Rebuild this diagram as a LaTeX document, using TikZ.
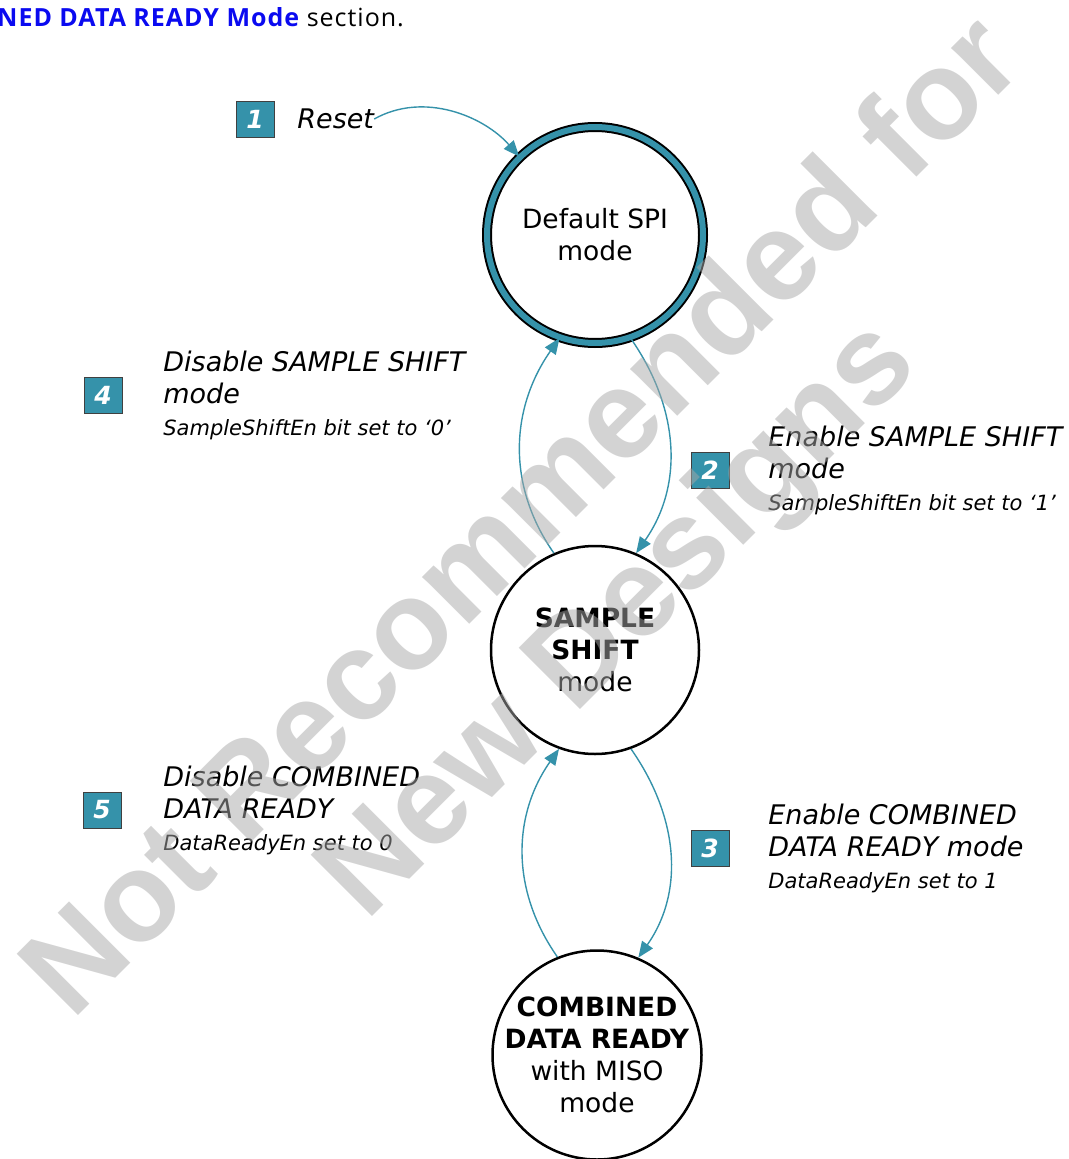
\documentclass[tikz,border=0pt]{standalone}
\usepackage{fontspec}
\setmainfont{DejaVu Sans}
\newfontfamily\headfont[LetterSpace=4]{Open Sans}
\newfontfamily\markfont{Liberation Sans}
\usetikzlibrary{positioning,arrows.meta}
\definecolor{stateteal}{RGB}{53,146,170}
\definecolor{linkblue}{RGB}{10,10,240}
\definecolor{markgray}{RGB}{168,168,168}
\newcommand\bitnote[1]{{\fontsize{21}{32}\selectfont #1}}
\begin{document}
\begin{tikzpicture}[x=1pt,y=1pt,
    state/.style={circle,draw,line width=2.5pt,inner sep=0pt,minimum size=208pt},
    statetext/.style={align=center,inner sep=0pt,font=\fontsize{26.5}{32}\selectfont},
    numbox/.style={draw=black!75,fill=stateteal,text=white,minimum width=38pt,minimum height=36pt,
        inner sep=0pt,font=\fontsize{25}{25}\selectfont\bfseries\itshape},
    lbl/.style={align=left,inner sep=0pt,font=\fontsize{27}{32}\selectfont\itshape},
    flow/.style={draw=stateteal,line width=1.4pt,-{Triangle[length=16pt,width=13pt]}},
    watermark/.style={rotate=45,anchor=base west,inner sep=0pt,text=markgray,text opacity=0.5,
        font=\markfont\bfseries\fontsize{126}{136}\selectfont}]
    \useasboundingbox (0,0) rectangle (1068,-1159);
    \node[anchor=base west,inner sep=0pt,font=\headfont\fontsize{25}{25}\selectfont] (head) at (-3,-26)
        {\textcolor{linkblue}{\bfseries NED DATA READY Mode} section.};

    \node[state,line width=2pt,double=stateteal,double distance=6pt,minimum size=216pt] (spi) at (595,-235) {};
    \node[statetext] (spitext) at (spi) {Default SPI\\mode};
    \node[state] (ss) at (595,-650) {};
    \node[statetext] (sstext) at (ss) {\textbf{SAMPLE}\\\textbf{SHIFT}\\mode};
    \node[state,minimum size=209pt] (cdr) at (597,-1055) {};
    \node[statetext] (cdrtext) at (cdr) {\textbf{COMBINED}\\\textbf{DATA READY}\\with MISO\\mode};

    \node[numbox] (n1) at (255,-119) {1};
    \node[lbl,right=23pt of n1] (l1) {Reset};
    \node[numbox] (n2) at (710,-470) {2};
    \node[lbl,right=39pt of n2] (l2) {Enable SAMPLE SHIFT\\mode\\\bitnote{SampleShiftEn bit set to ‘1’}};
    \node[numbox] (n3) at (710,-848) {3};
    \node[lbl,right=39pt of n3] (l3) {Enable COMBINED\\DATA READY mode\\\bitnote{DataReadyEn set to 1}};
    \node[numbox] (n4) at (103,-395) {4};
    \node[lbl,right=41pt of n4] (l4) {Disable SAMPLE SHIFT\\mode\\\bitnote{SampleShiftEn bit set to ‘0’}};
    \node[numbox] (n5) at (102,-810) {5};
    \node[lbl,right=42pt of n5] (l5) {Disable COMBINED\\DATA READY\\\bitnote{DataReadyEn set to 0}};

    \draw[flow] (l1.east) .. controls +(50,28) and +(-35,40) .. (spi.134);
    \draw[flow] (spi.-71) to[out=-55,in=55] (ss.67);
    \draw[flow] (ss.113) to[out=125,in=-125] (spi.-109);
    \draw[flow] (ss.-70) to[out=-55,in=55] (cdr.67);
    \draw[flow] (cdr.112) to[out=125,in=-125] (ss.-110);

    \node[watermark] (mark1) at (72,-1022) {Not Recommended for};
    \node[watermark] (mark2) at (366,-923) {New Designs};
\end{tikzpicture}
\end{document}
